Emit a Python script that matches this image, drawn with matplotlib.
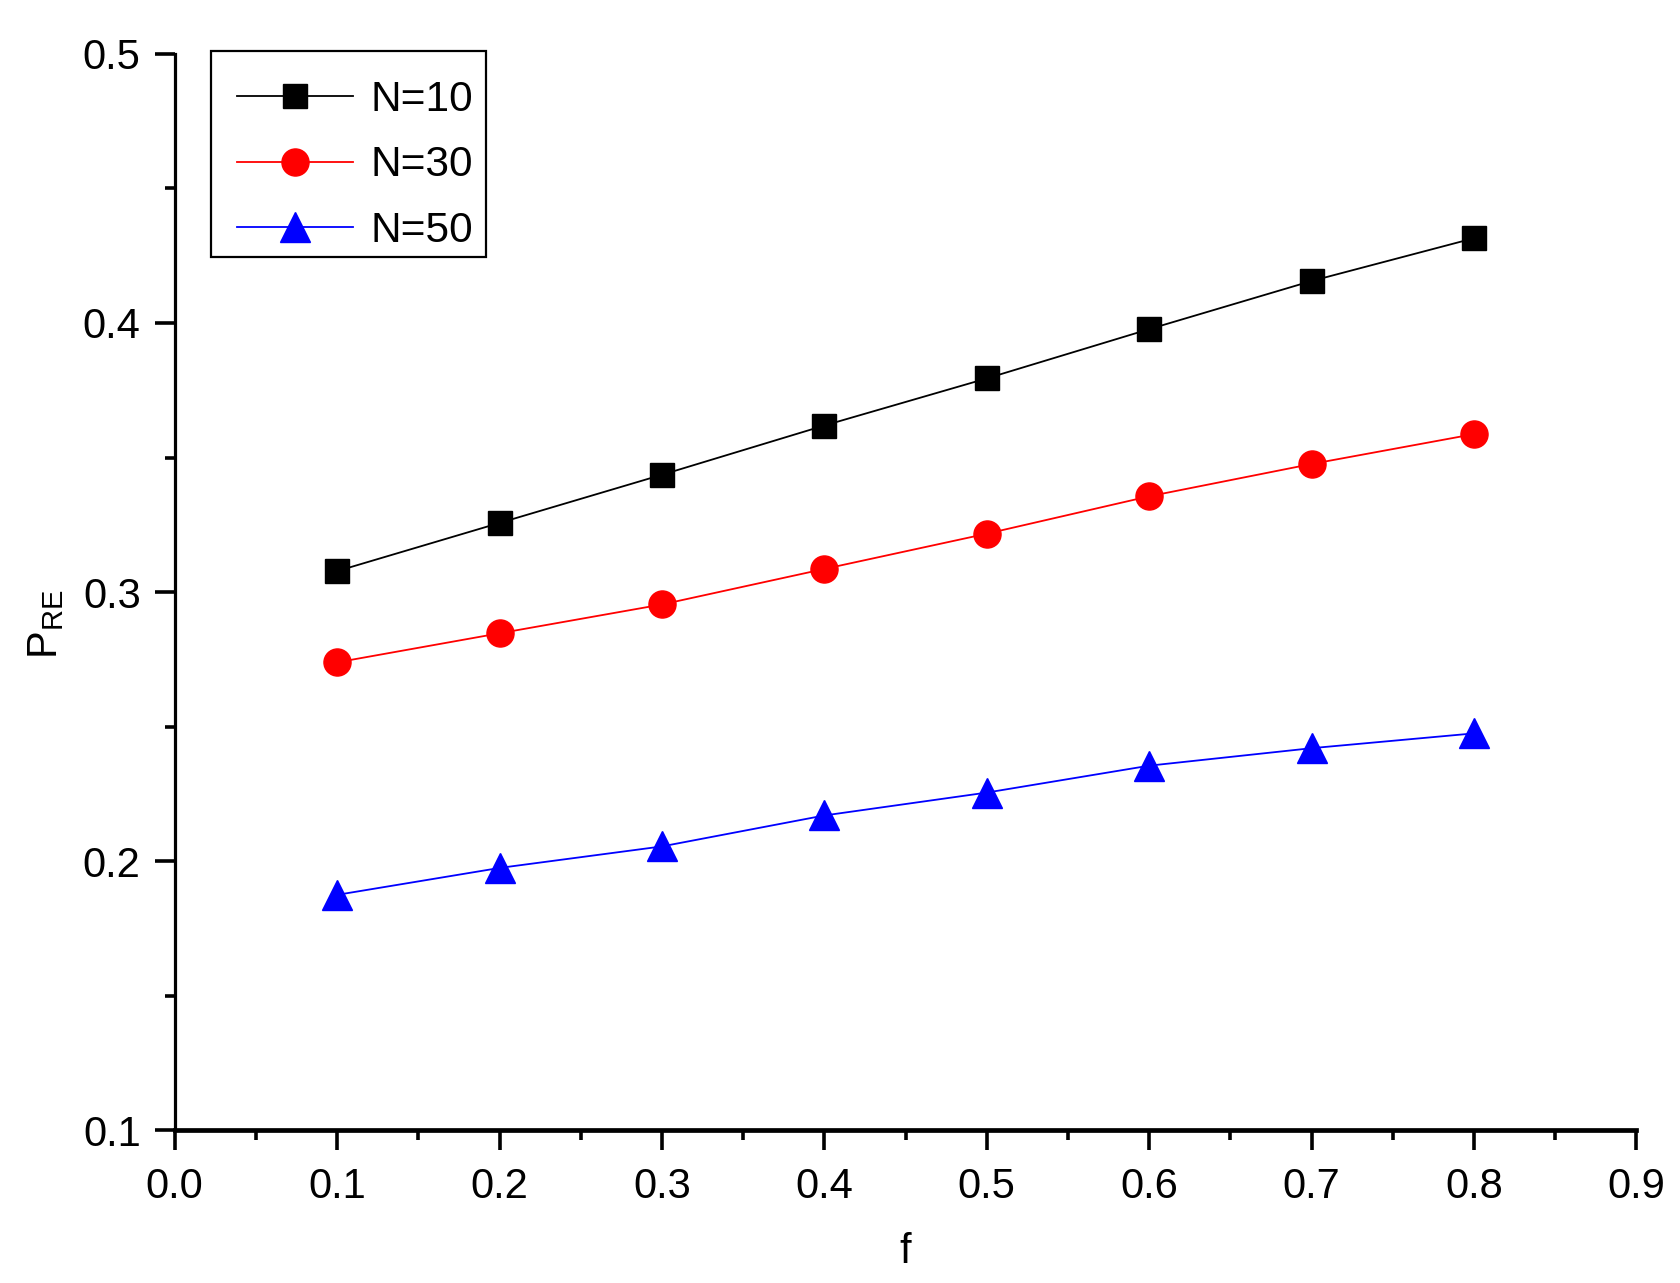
import matplotlib
matplotlib.use("Agg")
import matplotlib.pyplot as plt
from matplotlib.ticker import MultipleLocator, FormatStrFormatter
from matplotlib.patches import Rectangle
from matplotlib.transforms import IdentityTransform

plt.rcParams['font.family'] = ['Liberation Sans', 'DejaVu Sans']
plt.rcParams['mathtext.fontset'] = 'custom'
plt.rcParams['mathtext.rm'] = 'Liberation Sans'
plt.rcParams['mathtext.it'] = 'Liberation Sans'

f = [0.1, 0.2, 0.3, 0.4, 0.5, 0.6, 0.7, 0.8]
n10 = [0.3078, 0.3257, 0.3436, 0.3619, 0.3794, 0.3977, 0.4156, 0.4315]
n30 = [0.2739, 0.2847, 0.2954, 0.3086, 0.3217, 0.3356, 0.3476, 0.3587]
n50 = [0.1875, 0.1975, 0.2055, 0.2170, 0.2255, 0.2355, 0.2420, 0.2475]
labels = ["N=10", "N=30", "N=50"]

fig = plt.figure(figsize=(16.8, 12.83), dpi=100)
ax = fig.add_axes([0.104, 0.119, 0.870, 0.839])

ax.plot(f, n10, color='black', lw=1.3, marker='s', ms=17.3, label=labels[0])
ax.plot(f, n30, color='red', lw=1.3, marker='o', ms=19.5, label=labels[1])
ax.plot(f, n50, color='blue', lw=1.3, marker='^', ms=21.5, label=labels[2])

ax.set_xlim(0.0, 0.9)
ax.set_ylim(0.1, 0.5)
ax.xaxis.set_major_locator(MultipleLocator(0.1))
ax.xaxis.set_minor_locator(MultipleLocator(0.05))
ax.yaxis.set_major_locator(MultipleLocator(0.1))
ax.yaxis.set_minor_locator(MultipleLocator(0.05))
ax.xaxis.set_major_formatter(FormatStrFormatter('%.1f'))
ax.yaxis.set_major_formatter(FormatStrFormatter('%.1f'))

for s in ['top', 'right']:
    ax.spines[s].set_visible(False)
ax.spines['left'].set_linewidth(2.3)
ax.spines['bottom'].set_linewidth(3.4)

ax.tick_params(axis='both', which='major', direction='out', length=14.5, width=2.6,
               labelsize=30)
ax.tick_params(axis='x', which='major', pad=12)
ax.tick_params(axis='y', which='major', pad=10)
ax.tick_params(axis='both', which='minor', direction='out', length=7.5, width=2.6)

ax.set_xlabel('f', fontsize=30)
ax.xaxis.set_label_coords(0.5, -0.094)
ax.set_ylabel(r'$\mathregular{P_{RE}}$', fontsize=30)
ax.yaxis.set_label_coords(-0.074, 0.47)

leg = ax.legend(loc='upper left', bbox_to_anchor=(0.0424, 0.9758), fontsize=30.5,
                frameon=False, handlelength=2.75, borderpad=0.0, labelspacing=0.6,
                handletextpad=0.42, borderaxespad=0.0)

# asymmetric frame around the legend, as in the reference
fig.canvas.draw()
bb = leg.get_window_extent(fig.canvas.get_renderer())
pad_l, pad_r, pad_t, pad_b = 26, 12, 29, 6
frame = Rectangle((bb.x0 - pad_l, bb.y0 - pad_b),
                  bb.width + pad_l + pad_r, bb.height + pad_t + pad_b,
                  transform=IdentityTransform(), fill=False,
                  edgecolor='black', linewidth=1.6, zorder=5)
fig.add_artist(frame)

fig.savefig('out.png', dpi=100, facecolor='white')
